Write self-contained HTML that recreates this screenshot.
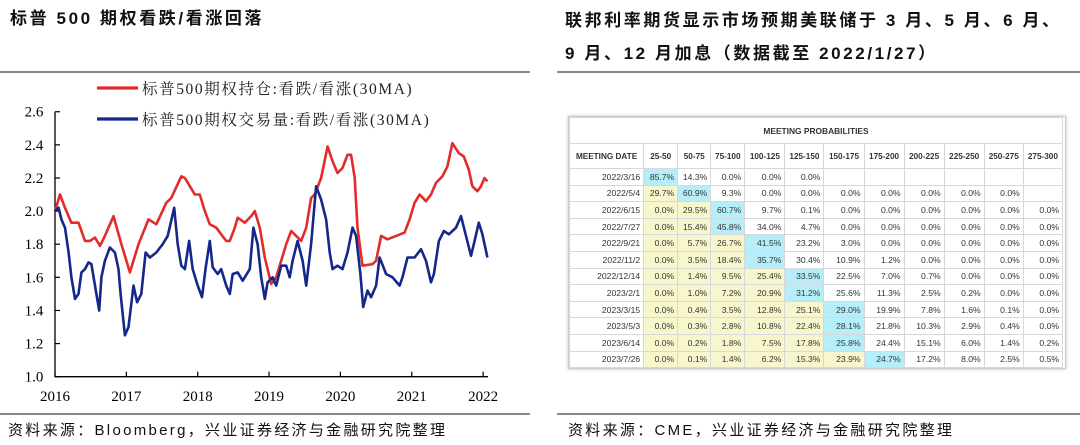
<!DOCTYPE html>
<html><head><meta charset="utf-8">
<style>
body{margin:0;width:1080px;height:445px;background:#fff;overflow:hidden;position:relative;font-family:"Liberation Sans","Noto Sans CJK SC",sans-serif;}
.t{position:absolute;font-weight:bold;font-size:17px;color:#111;letter-spacing:2.6px;}
.hr{position:absolute;height:2px;background:#888;}
.src{position:absolute;top:419px;font-size:15px;color:#111;letter-spacing:2.3px;}
#tbl{position:absolute;left:568px;top:116px;width:496px;height:251px;border:1px solid #ccc;box-shadow:0 0 3px #bbb;background:#fff;}
table{border-collapse:collapse;font-family:"Liberation Sans",sans-serif;font-size:8.6px;color:#333;}
td{border:1px solid #d8d8dc;padding:0 3px;text-align:right;height:15.6px;white-space:nowrap;}
th{border:1px solid #d8d8dc;font-weight:bold;height:24px;padding:0;text-align:center;}
</style></head><body>
<div class="t" style="left:10px;top:4px;">标普 500 期权看跌/看涨回落</div>
<div class="t" style="left:565px;top:4px;line-height:33px;">联邦利率期货显示市场预期美联储于 3 月、5 月、6 月、<br>9 月、12 月加息（数据截至 2022/1/27）</div>
<div class="hr" style="left:0;top:71px;width:530px;"></div>
<div class="hr" style="left:557px;top:71px;width:523px;"></div>
<div class="hr" style="left:0;top:413px;width:530px;"></div>
<div class="hr" style="left:557px;top:413px;width:523px;"></div>
<div class="src" style="left:8px;">资料来源：Bloomberg，兴业证券经济与金融研究院整理</div>
<div class="src" style="left:568px;">资料来源：CME，兴业证券经济与金融研究院整理</div>

<svg id="chart" width="530" height="412" style="position:absolute;left:0;top:0;"></svg>

<div id="tbl"></div>

<script>
const yTicks=[1.0,1.2,1.4,1.6,1.8,2.0,2.2,2.4,2.6];
const xYears=[2016,2017,2018,2019,2020,2021,2022];
const dateRed=[0,.07,.14,.23,.33,.42,.49,.56,.63,.70,.82,.93,1.05,1.17,1.31,1.42,1.56,1.63,1.77,1.82,1.89,1.96,2.03,2.10,2.17,2.26,2.33,2.40,2.45,2.52,2.56,2.66,2.75,2.80,2.87,2.94,3.03,3.10,3.17,3.24,3.31,3.38,3.45,3.52,3.59,3.64,3.73,3.82,3.89,3.96,4.03,4.10,4.15,4.20,4.24,4.31,4.45,4.50,4.57,4.66,4.78,4.90,4.97,5.04,5.11,5.20,5.27,5.34,5.43,5.50,5.57,5.66,5.73,5.80,5.85,5.92,5.97,6.02,6.06];
const openInterestRatio=[2.0,2.1,2.02,1.93,1.93,1.82,1.82,1.84,1.79,1.85,1.97,1.8,1.63,1.8,1.95,1.92,2.05,2.08,2.21,2.2,2.15,2.1,2.1,2.0,1.92,1.9,1.86,1.82,1.82,1.9,1.96,1.93,1.97,2.0,1.9,1.72,1.56,1.6,1.7,1.8,1.88,1.85,1.82,1.9,2.08,2.1,2.2,2.39,2.3,2.23,2.26,2.34,2.34,2.2,1.9,1.67,1.68,1.7,1.85,1.83,1.85,1.87,1.95,2.05,2.1,2.06,2.1,2.17,2.21,2.27,2.41,2.35,2.33,2.25,2.15,2.12,2.15,2.2,2.18];
const dateBlue=[0,.05,.09,.14,.19,.23,.28,.33,.37,.42,.47,.51,.56,.62,.65,.70,.77,.84,.89,.92,.98,1.03,1.10,1.15,1.21,1.27,1.33,1.42,1.51,1.58,1.67,1.72,1.77,1.82,1.88,1.93,2.00,2.06,2.11,2.17,2.21,2.28,2.33,2.40,2.45,2.49,2.56,2.63,2.73,2.78,2.84,2.89,2.94,2.98,3.05,3.10,3.17,3.24,3.29,3.33,3.40,3.47,3.52,3.59,3.66,3.73,3.80,3.85,3.89,3.96,4.03,4.10,4.17,4.22,4.28,4.32,4.38,4.43,4.50,4.55,4.64,4.73,4.83,4.87,4.94,5.04,5.13,5.20,5.27,5.31,5.38,5.45,5.52,5.62,5.69,5.76,5.83,5.87,5.94,5.99,6.06];
const volumeRatio=[2.0,2.02,1.95,1.9,1.75,1.6,1.47,1.5,1.63,1.65,1.69,1.68,1.55,1.4,1.6,1.7,1.78,1.75,1.65,1.5,1.25,1.3,1.55,1.45,1.5,1.75,1.72,1.75,1.8,1.85,2.02,1.8,1.67,1.65,1.82,1.65,1.55,1.48,1.65,1.82,1.66,1.62,1.65,1.55,1.5,1.62,1.63,1.58,1.65,1.9,1.8,1.6,1.47,1.57,1.6,1.55,1.67,1.67,1.6,1.7,1.82,1.7,1.55,1.8,2.15,2.07,1.95,1.75,1.65,1.67,1.65,1.75,1.9,1.85,1.62,1.42,1.52,1.48,1.55,1.72,1.62,1.6,1.55,1.6,1.72,1.72,1.77,1.7,1.57,1.62,1.82,1.88,1.86,1.9,1.97,1.85,1.73,1.8,1.93,1.86,1.72];

const NS='http://www.w3.org/2000/svg';
const svg=document.getElementById('chart');
const X=t=>55+t*71.35;
const Y=v=>376.7-(v-1)*165.6;
function mk(tag,a){const e=document.createElementNS(NS,tag);for(const k in a)e.setAttribute(k,a[k]);svg.appendChild(e);return e;}
const serif='"Liberation Serif","Noto Serif CJK SC",serif';

let ax=mk('path',{d:`M55 ${Y(2.6)}V${Y(1)}H488`,stroke:'#000','stroke-width':1.3,fill:'none'});


yTicks.forEach(v=>{
  let tk=mk('line',{x1:55,x2:60,y1:Y(v),y2:Y(v),stroke:'#000','stroke-width':1.2});
  
  
  let tl=mk('text',{x:34,y:Y(v)+5,'text-anchor':'middle','font-size':15,'font-family':serif});
  tl.textContent=v.toFixed(1);
  
  
});
xYears.forEach(yr=>{
  const x=X(yr-2016);
  let tk=mk('line',{x1:x,x2:x,y1:Y(1),y2:Y(1)-5,stroke:'#000','stroke-width':1.2});
  
  
  let tl=mk('text',{x:x,y:401,'text-anchor':'middle','font-size':15,'font-family':serif});
  tl.textContent=yr;
  
  
});
function series(d,v,color,name){
  const n=Math.min(d.length,v.length);let p='';
  for(let i=0;i<n;i++)p+=(i?'L':'M')+X(d[i]).toFixed(1)+' '+Y(v[i]).toFixed(1);
  let e=mk('path',{d:p,stroke:color,'stroke-width':2.6,fill:'none','stroke-linejoin':'round'});
  
  
}
series(dateRed,openInterestRatio,'#e32b2b','open-interest-line');
series(dateBlue,volumeRatio,'#14278a','volume-line');

[['#e32b2b','标普500期权持仓:看跌/看涨(30MA)',88,'legend-open-interest'],['#14278a','标普500期权交易量:看跌/看涨(30MA)',119,'legend-volume']].forEach(l=>{
  let ln=mk('line',{x1:97,x2:138,y1:l[2],y2:l[2],stroke:l[0],'stroke-width':3.2});
  
  
  let t=mk('text',{x:142,y:l[2]+6,'font-size':15.5,'font-family':serif,fill:'#222','letter-spacing':'1.6px'});
  t.textContent=l[1];
  
  
});

const cols=['25-50','50-75','75-100','100-125','125-150','150-175','175-200','200-225','225-250','250-275','275-300'];
const colW=[74,34,33,34,40,39,40,40,40,40,39,39];
const meetings=['2022/3/16','2022/5/4','2022/6/15','2022/7/27','2022/9/21','2022/11/2','2022/12/14','2023/2/1','2023/3/15','2023/5/3','2023/6/14','2023/7/26'];
const probs=[
[85.7,14.3,0.0,0.0,0.0],
[29.7,60.9,9.3,0.0,0.0,0.0,0.0,0.0,0.0,0.0],
[0.0,29.5,60.7,9.7,0.1,0.0,0.0,0.0,0.0,0.0,0.0],
[0.0,15.4,45.8,34.0,4.7,0.0,0.0,0.0,0.0,0.0,0.0],
[0.0,5.7,26.7,41.5,23.2,3.0,0.0,0.0,0.0,0.0,0.0],
[0.0,3.5,18.4,35.7,30.4,10.9,1.2,0.0,0.0,0.0,0.0],
[0.0,1.4,9.5,25.4,33.5,22.5,7.0,0.7,0.0,0.0,0.0],
[0.0,1.0,7.2,20.9,31.2,25.6,11.3,2.5,0.2,0.0,0.0],
[0.0,0.4,3.5,12.8,25.1,29.0,19.9,7.8,1.6,0.1,0.0],
[0.0,0.3,2.8,10.8,22.4,28.1,21.8,10.3,2.9,0.4,0.0],
[0.0,0.2,1.8,7.5,17.8,25.8,24.4,15.1,6.0,1.4,0.2],
[0.0,0.1,1.4,6.2,15.3,23.9,24.7,17.2,8.0,2.5,0.5]];
const tbl=document.createElement('table');


tbl.style.width='494px';tbl.style.tableLayout='fixed';
const cg=document.createElement('colgroup');
colW.forEach(w=>{const c=document.createElement('col');c.style.width=w+'px';cg.appendChild(c);});
tbl.appendChild(cg);
let tr=document.createElement('tr');
let th=document.createElement('th');th.colSpan=12;th.textContent='MEETING PROBABILITIES';th.style.height='25px';th.style.fontSize='8.4px';


tr.appendChild(th);tbl.appendChild(tr);
tr=document.createElement('tr');
['MEETING DATE'].concat(cols).forEach(c=>{
  const h=document.createElement('th');h.textContent=c;h.style.fontSize='8.2px';
  
  
  tr.appendChild(h);});
tbl.appendChild(tr);
meetings.forEach((m,r)=>{
  const row=document.createElement('tr');
  
  
  const d=document.createElement('td');d.textContent=m;row.appendChild(d);
  const vals=probs[r];let mi=0;vals.forEach((v,i)=>{if(v>vals[mi])mi=i;});
  for(let i=0;i<11;i++){
    const c=document.createElement('td');
    
    
    if(i<vals.length){c.textContent=vals[i].toFixed(1)+'%';
      if(i===mi)c.style.background='#b5eef8';else if(i<mi)c.style.background='#f8f6cc';}
    row.appendChild(c);
  }
  tbl.appendChild(row);
});
document.getElementById('tbl').appendChild(tbl);
</script>
</body></html>
